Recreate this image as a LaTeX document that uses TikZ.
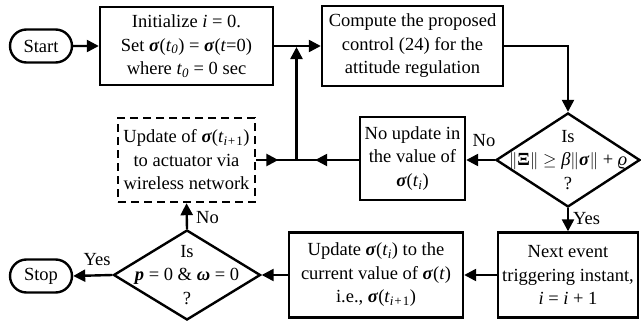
\documentclass[tikz,border=0pt]{standalone}
\usepackage{amsmath}
\usepackage{amssymb}
\usepackage[no-math]{fontspec}
\setmainfont{Liberation Serif}
\usetikzlibrary{arrows.meta,shapes.geometric,shapes.misc,decorations.markings}

% Times-style symbols taken from the text font
\newcommand{\vsig}{\textbf{\textit{σ}}}
\newcommand{\vome}{\textbf{\textit{ω}}}
\newcommand{\vp}{\textbf{\textit{p}}}
\newcommand{\iv}[1]{\textit{#1}}
\newcommand{\sub}[1]{\textsubscript{\textit{#1}}}
\newcommand{\nrm}{$\|$}

\tikzset{
  every node/.style={font=\fontsize{18.5pt}{23.5pt}\selectfont, align=center},
  procbox/.style={draw, line width=2.4pt, inner sep=0pt},
  dashbox/.style={procbox, dash pattern=on 8pt off 5pt},
  termbox/.style={draw, line width=2.4pt, rounded rectangle, minimum width=62pt, minimum height=33pt, inner sep=0pt},
  decbox/.style={draw, line width=2.4pt, diamond, inner sep=0pt},
  tiptr/.tip={Triangle[length=12pt,width=12pt]},
  flow/.style={line width=2.4pt, -tiptr},
  midarrow/.style={line width=2.4pt, postaction={decorate},
    decoration={markings, mark=at position #1 with {\arrow{tiptr}}}},
  lbl/.style={inner sep=1pt}
}

\begin{document}
\begin{tikzpicture}[x=1pt,y=-1pt]
\useasboundingbox (0,0) rectangle (641,324);

% top row
\node[termbox] (start) at (41,46) {Start};
\node[procbox, minimum width=173pt, minimum height=78pt] (init) at (186.5,46)
  {Initialize \iv{i} = 0.\\ Set \vsig(\iv{t}\sub{0}) = \vsig(\iv{t}=0)\\ where \iv{t}\sub{0} = 0 sec};
\node[procbox, minimum width=181pt, minimum height=80pt] (comp) at (412.5,46)
  {Compute the proposed\\ control (24) for the\\ attitude regulation};

% middle row
\node[decbox, minimum width=144pt, minimum height=94pt] (dec1) at (568,160) {};
\node (dec1t) at (568,160) {Is\\ \nrm\textbf{Ξ}\nrm\ $\geq$ \iv{β}\nrm\vsig\nrm\ + \iv{ϱ}\\ ?};
\node[procbox, minimum width=105pt, minimum height=83pt] (noupd) at (412.5,158.5)
  {No update in\\ the value of\\ \vsig(\iv{t}\sub{i})};
\node[dashbox, minimum width=137pt, minimum height=84pt] (act) at (186.5,160)
  {Update of \vsig(\iv{t}\sub{i+}\textsubscript{1})\\ to actuator via\\ wireless network};
\coordinate (j) at (296.5,160);
\coordinate (jt) at (296.5,47);

% bottom row
\node[procbox, minimum width=140pt, minimum height=85pt] (next) at (568,275)
  {Next event\\ triggering instant,\\ \iv{i} = \iv{i} + 1};
\node[procbox, minimum width=174pt, minimum height=85pt] (upd) at (376,275)
  {Update \vsig(\iv{t}\sub{i}) to the\\ current value of \vsig(\iv{t})\\ i.e., \vsig(\iv{t}\sub{i+}\textsubscript{1})};
\node[decbox, minimum width=147pt, minimum height=90pt] (dec2) at (187,275) {};
\node (dec2t) at (187,275) {Is\\ \vp\ = 0 \& \vome\ = 0\\ ?};
\node[termbox] (stop) at (41,276) {Stop};

% connectors
\draw[flow] (start) -- (init);
\draw[flow] (init) -- (comp);
\draw[flow] (comp.east) -| (dec1.north);
\draw[flow] (dec1.west) -- (dec1.west -| noupd.east);
\draw[midarrow=0.7] (noupd.west |- j) -- (j);
\draw[midarrow=0.55] (act.east |- j) -- (j);
\draw[flow] (j) -- (jt);
\draw[flow] (dec1.south) -- (next.north);
\draw[flow] (next.west) -- (upd.east);
\draw[flow] (upd.west) -- (dec2.east);
\draw[flow] (dec2.west) -- (stop.east);
\draw[flow] (dec2.north) -- (act.south);

% branch labels
\node[lbl] (lno1) at (484,141) {No};
\node[lbl, anchor=west] (lyes1) at (572,219) {Yes};
\node[lbl, anchor=west] (lno2) at (195,218) {No};
\node[lbl] (lyes2) at (97,260) {Yes};
\end{tikzpicture}
\end{document}
